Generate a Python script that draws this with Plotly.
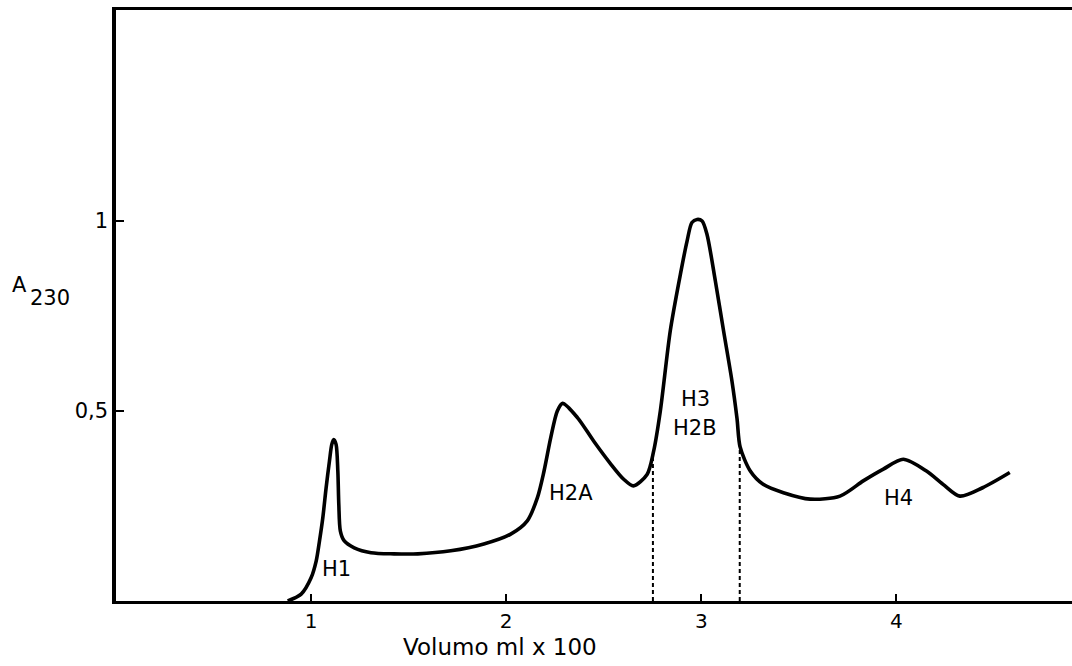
import numpy as np
import plotly.graph_objects as go

# Elution profile: volume (ml x 100) vs absorbance at 230 nm
volume = [0.880, 0.949, 1.000, 1.026, 1.043, 1.060, 1.077, 1.094, 1.106, 1.116,
          1.128, 1.137, 1.142, 1.150, 1.170, 1.221, 1.307, 1.425, 1.547, 1.716,
          1.885, 2.023, 2.108, 2.160, 2.194, 2.228, 2.262, 2.289, 2.366, 2.448,
          2.535, 2.601, 2.652, 2.722, 2.756, 2.790, 2.841, 2.893, 2.927, 2.952,
          2.978, 3.004, 3.029, 3.072, 3.114, 3.157, 3.183, 3.199, 3.251, 3.317,
          3.421, 3.558, 3.711, 3.830, 3.933, 4.035, 4.154, 4.239, 4.325, 4.442,
          4.581]
absorbance = [0.0, 0.018, 0.061, 0.105, 0.158, 0.219, 0.298, 0.368, 0.412, 0.425,
              0.412, 0.342, 0.254, 0.184, 0.158, 0.140, 0.127, 0.124, 0.124, 0.132,
              0.150, 0.176, 0.211, 0.272, 0.342, 0.429, 0.500, 0.520, 0.482, 0.421,
              0.361, 0.321, 0.303, 0.333, 0.395, 0.500, 0.711, 0.860, 0.947, 0.996,
              1.004, 1.000, 0.965, 0.842, 0.711, 0.579, 0.480, 0.405, 0.342, 0.307,
              0.285, 0.268, 0.276, 0.316, 0.347, 0.373, 0.342, 0.307, 0.276, 0.298,
              0.338]

# Fraction cut positions for the H3/H2B pool
cut_volumes = [2.752, 3.197]

# Peak labels
peak_names = ["H1", "H2A", "H3", "H2B", "H4"]
peak_x = [1.13, 2.33, 2.97, 2.97, 4.01]
peak_y = [0.085, 0.285, 0.532, 0.455, 0.27]

x_tick_vals = [1, 2, 3, 4]
x_tick_text = ["1", "2", "3", "4"]
y_tick_vals = [0.5, 1]
y_tick_text = ["0,5", "1"]

FONT = "DejaVu Sans, sans-serif"

fig = go.Figure()

fig.add_trace(go.Scatter(
    x=volume, y=absorbance, mode="lines",
    line=dict(color="black", width=3.6, shape="spline", smoothing=0.8),
    hoverinfo="skip", showlegend=False,
))

for cv in cut_volumes:
    top = float(np.interp(cv, volume, absorbance))
    fig.add_trace(go.Scatter(
        x=[cv, cv], y=[0, top], mode="lines",
        line=dict(color="black", width=2, dash="4px,3px"),
        hoverinfo="skip", showlegend=False,
    ))

for name, px, py in zip(peak_names, peak_x, peak_y):
    fig.add_annotation(x=px, y=py, text=name, showarrow=False,
                       font=dict(family=FONT, size=21, color="black"))

# Y-axis label A230 (subscript set lower, same size)
fig.add_annotation(xref="paper", yref="paper", x=-0.111, y=0.534, text="A",
                   xanchor="left", showarrow=False,
                   font=dict(family=FONT, size=21, color="black"))
fig.add_annotation(xref="paper", yref="paper", x=-0.092, y=0.513, text="230",
                   xanchor="left", showarrow=False,
                   font=dict(family=FONT, size=21, color="black"))

# X-axis label
fig.add_annotation(xref="x", yref="paper", x=1.97, y=-0.078, text="Volumo ml x 100",
                   showarrow=False, yanchor="middle",
                   font=dict(family=FONT, size=23, color="black"))

fig.update_layout(
    width=1072, height=666,
    margin=dict(l=116, r=0, t=10, b=65),
    paper_bgcolor="white", plot_bgcolor="white",
    font=dict(family=FONT, color="black"),
    xaxis=dict(range=[0, 4.9], showgrid=False, zeroline=False,
               showline=True, linecolor="black", linewidth=3, mirror=True,
               ticks="inside", ticklen=7, tickwidth=1.5, tickcolor="black",
               tickvals=x_tick_vals, ticktext=x_tick_text,
               tickfont=dict(family=FONT, size=20, color="black")),
    yaxis=dict(range=[0, 1.555], showgrid=False, zeroline=False,
               showline=True, linecolor="black", linewidth=3.5,
               ticks="inside", ticklen=8, tickwidth=1.5, tickcolor="black",
               tickvals=y_tick_vals, ticktext=y_tick_text,
               tickfont=dict(family=FONT, size=21, color="black")),
)

fig.write_html("out.html")
